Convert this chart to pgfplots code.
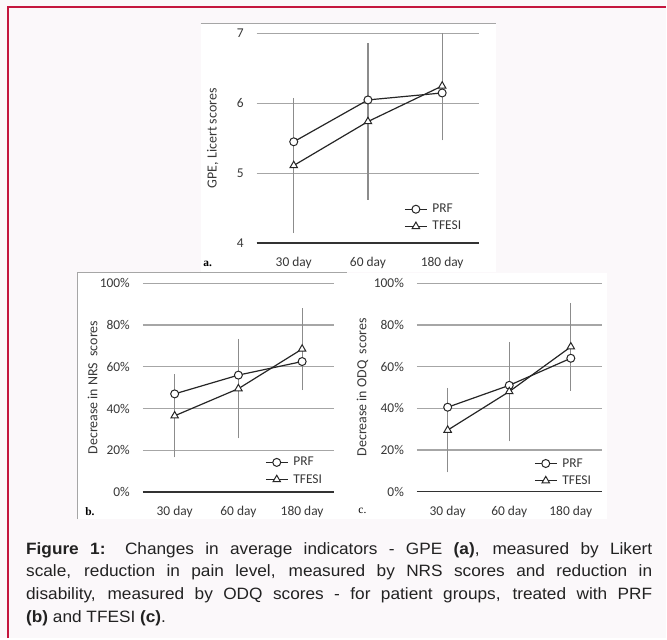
\documentclass[border=0pt]{standalone}
\usepackage{fontspec}
\setmainfont{Liberation Sans}[FakeStretch=1.05]
\newfontfamily\chartfont{Carlito}
\newfontfamily\labfont{Liberation Serif}
\usepackage{pgfplots}
\pgfplotsset{compat=1.18}

\definecolor{framered}{RGB}{196,22,62}
\definecolor{bgpink}{RGB}{251,248,250}
\definecolor{gridgray}{RGB}{166,166,166}
\definecolor{errgray}{RGB}{140,140,140}
\definecolor{linedark}{RGB}{38,38,38}
\definecolor{axisdark}{RGB}{50,50,50}
\definecolor{txtgray}{RGB}{56,56,56}
\definecolor{captxt}{RGB}{34,34,34}

\pgfplotsset{
  panel/.style={
    scale only axis, anchor=south west,
    xmin=0.5, xmax=3.5, xtick={1,2,3},
    xticklabels={30 day,60 day,180 day},
    axis x line*=bottom, axis y line*=left,
    x axis line style={axisdark, line width=1.2bp},
    y axis line style={draw=none},
    ymajorgrids, major grid style={gridgray, line width=1.3bp},
    major tick length=0pt, tick style={draw=none},
    xticklabel shift=11bp, yticklabel shift=9.5bp,
    ticklabel style={font=\chartfont\fontsize{13.5}{15}\selectfont, text=txtgray},
    /pgf/number format/assume math mode=true,
    label style={font=\chartfont\fontsize{14}{16}\selectfont, text=txtgray},
    legend style={draw=none, fill=none, inner sep=0pt, outer sep=0pt,
      anchor=west, row sep=3bp, text=txtgray,
      font=\chartfont\fontsize{13.5}{15}\selectfont,
      nodes={inner sep=2bp}},
    legend cell align=left,
    legend image code/.code={
      \draw[mark repeat=2,mark phase=2,##1]
        plot coordinates {(0bp,0bp)(11bp,0bp)(22bp,0bp)};
      \path (25bp,0bp);},
  },
  prf/.style={linedark, line width=1.2bp, mark=*, mark size=4bp,
    mark options={fill=white, draw=linedark, line width=1bp}},
  tfesi/.style={linedark, line width=1.2bp, mark=triangle*, mark size=4.3bp,
    mark options={fill=white, draw=linedark, line width=1bp}},
  errs/.style={forget plot, only marks, mark=none,
    error bars/.cd, y dir=both, y explicit,
    error bar style={errgray, line width=1.1bp},
    error mark options={errgray, mark size=2.8bp, line width=1.1bp}},
}

\begin{document}
\begin{tikzpicture}[x=1bp, y=1bp]
% page background and frame
\fill[bgpink] (0,0) rectangle (667,-639);
\draw[framered, line width=2bp] (8,-639) -- (8,-7.5) -- (667,-7.5);

% white image panels
\fill[white] (201,-23) rectangle (497,-272);
\draw[gray!70, line width=0.8bp] (201,-23) -- (497,-23);
\fill[white] (78,-273) rectangle (608,-520);
\draw[gray!70, line width=0.8bp] (78,-520) -- (78,-273) -- (348,-273);

% (a) GPE
\begin{axis}[panel, at={(257bp,-243.3bp)}, width=223bp, height=209.6bp,
  ymin=4, ymax=7, ytick={4,5,6,7},
  ylabel={GPE, Licert scores},
  ylabel style={at={(axis description cs:-0.197,0.5)}, anchor=center},
  legend style={at={(axis cs:2.49,4.36)}}]
\addplot[errs] coordinates {
  (1,5.11) +- (0,0.93)
  (2,5.74) +- (0,1.08)
  (3,6.25) +- (0,0.74)
};
\addplot[prf] coordinates {(1,5.45) (2,6.05) (3,6.15)};
\addlegendentry{PRF}
\addplot[tfesi] coordinates {(1,5.11) (2,5.74) (3,6.25)};
\addlegendentry{TFESI}
\end{axis}

% (b) NRS
\begin{axis}[panel, at={(143bp,-492.7bp)}, width=191.5bp, height=209bp,
  ymin=0, ymax=100, ytick={0,20,40,60,80,100},
  yticklabels={0\%,20\%,40\%,60\%,80\%,100\%},
  ylabel={Decrease in NRS\ \ scores},
  ylabel style={at={(axis description cs:-0.262,0.5)}, anchor=center},
  legend style={at={(axis cs:2.42,10.05)}}]
\addplot[errs] coordinates {
  (1,36.5) +- (0,18.6)
  (2,49.5) +- (0,22.5)
  (3,68.5) +- (0,18.3)
};
\addplot[prf] coordinates {(1,47) (2,56) (3,62.5)};
\addlegendentry{PRF}
\addplot[tfesi] coordinates {(1,36.5) (2,49.5) (3,68.5)};
\addlegendentry{TFESI}
\end{axis}

% (c) ODQ
\begin{axis}[panel, at={(417.5bp,-492.3bp)}, width=185bp, height=208.6bp,
  ymin=0, ymax=100, ytick={0,20,40,60,80,100},
  yticklabels={0\%,20\%,40\%,60\%,80\%,100\%},
  ylabel={Decrease in ODQ\ \ scores},
  ylabel style={at={(axis description cs:-0.295,0.5)}, anchor=center},
  legend style={at={(axis cs:2.405,9.35)}}]
\addplot[errs] coordinates {
  (1,29.5) +- (0,19)
  (2,48) +- (0,22.5)
  (3,69.5) +- (0,19.8)
};
\addplot[prf] coordinates {(1,40.5) (2,51) (3,64)};
\addlegendentry{PRF}
\addplot[tfesi] coordinates {(1,29.5) (2,48) (3,69.5)};
\addlegendentry{TFESI}
\end{axis}

% panel letters
\node[font=\labfont\bfseries\fontsize{11.5}{12}\selectfont] at (208,-264) {a.};
\node[font=\labfont\bfseries\fontsize{11.5}{12}\selectfont] at (90,-512) {b.};
\node[font=\labfont\fontsize{11.5}{12}\selectfont] at (363,-512) {c.};

% caption
\node[anchor=north west, inner sep=0pt, text width=627bp, align=justify,
  text=captxt, font=\fontsize{16.5}{22.8}\selectfont] at (26,-543)
  {\tolerance=10000\hbadness=10000\textbf{Figure 1:} Changes in average indicators - GPE \textbf{(a)}, measured by Likert\linebreak
  scale, reduction in pain level, measured by NRS scores and reduction in\linebreak
  disability, measured by ODQ scores - for patient groups, treated with PRF\linebreak
  \textbf{(b)} and TFESI \textbf{(c)}.};
\end{tikzpicture}
\end{document}
